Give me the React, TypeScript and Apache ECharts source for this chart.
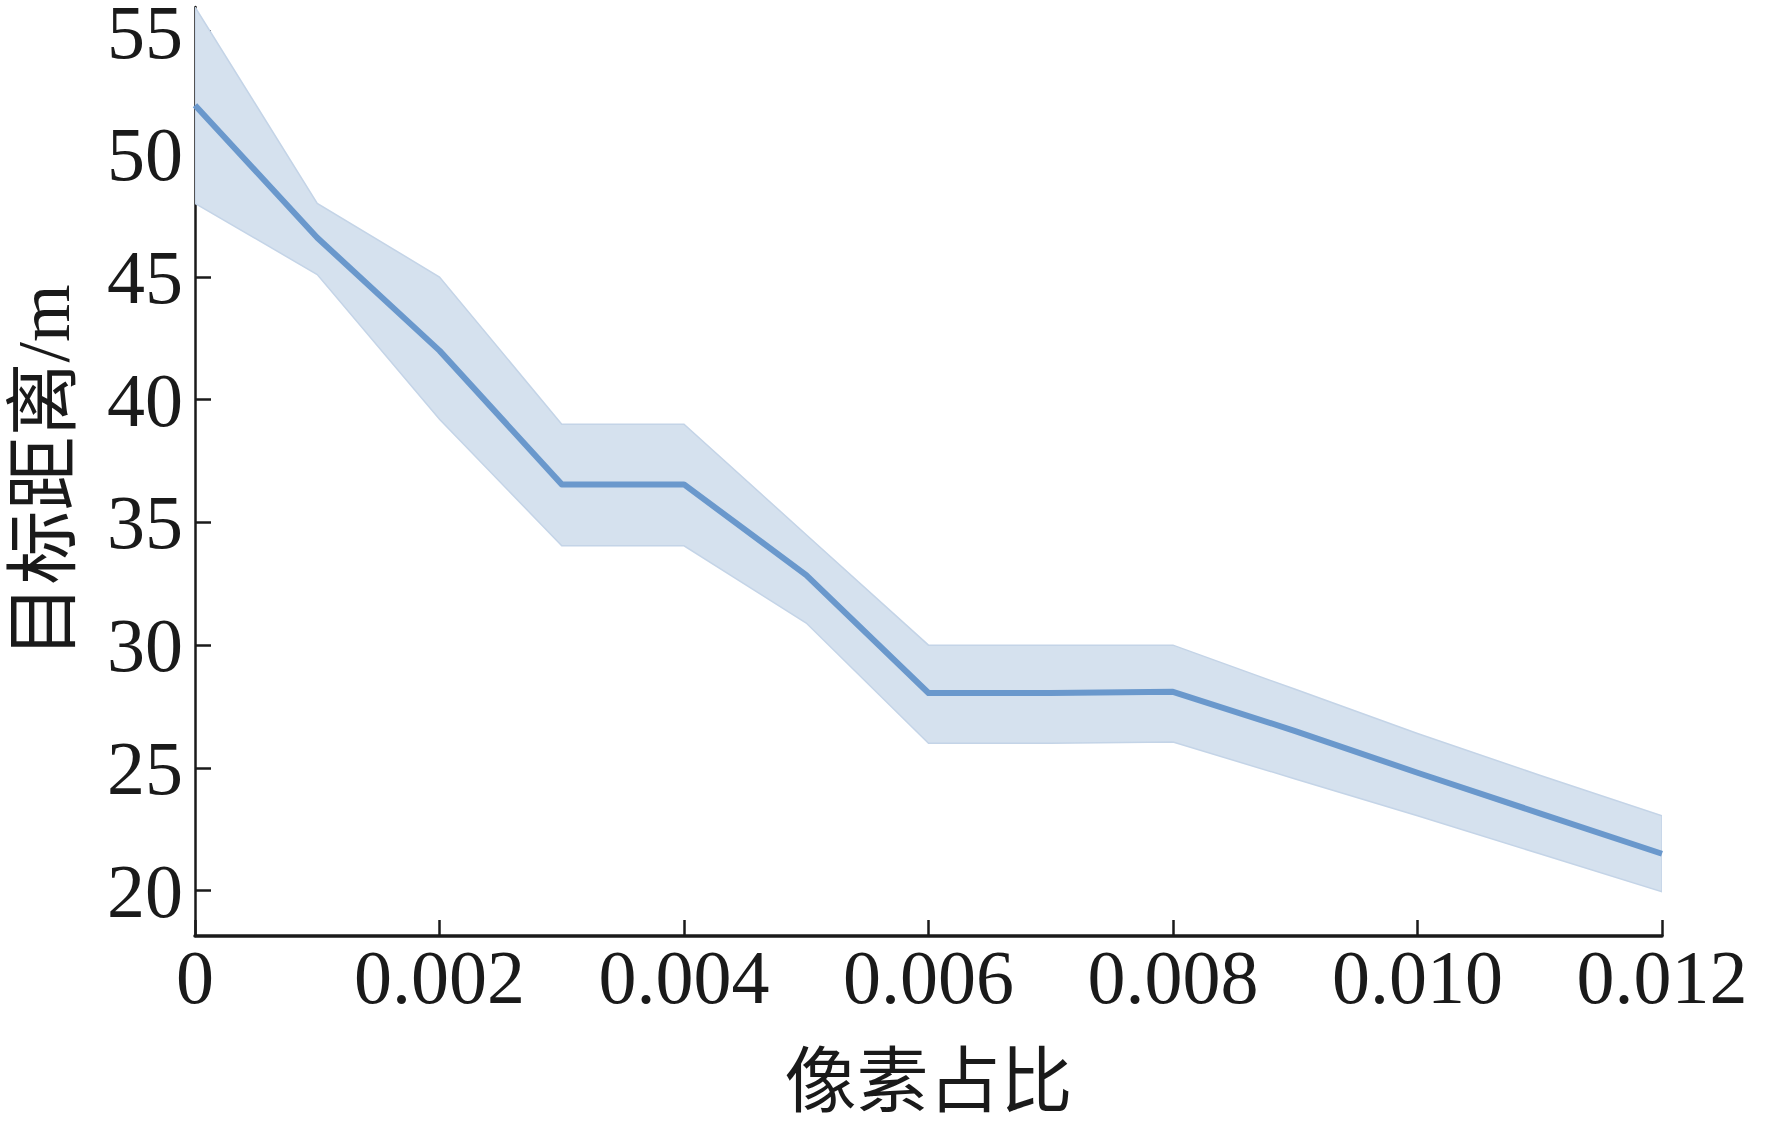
import React, { useEffect, useRef } from "react";
import * as echarts from "echarts";

// x positions (pixel ratio)
const xValues = [0, 0.001, 0.002, 0.003, 0.004, 0.005, 0.006, 0.007, 0.008, 0.009, 0.01, 0.011, 0.012];
// mean target distance (m)
const meanValues = [52.0, 46.6, 42.0, 36.55, 36.55, 32.85, 28.05, 28.05, 28.1, 26.5, 24.8, 23.15, 21.5];
// confidence band upper / lower
const upperValues = [56.0, 48.0, 45.0, 39.0, 39.0, 34.5, 30.0, 30.0, 30.0, 28.2, 26.4, 24.7, 23.05];
const lowerValues = [48.0, 45.1, 39.2, 34.05, 34.05, 30.9, 26.0, 26.0, 26.05, 24.55, 23.05, 21.5, 19.95];

const yTickValues = [20, 25, 30, 35, 40, 45, 50, 55];
const xAxisName = "像素占比";
const yAxisName = "目标距离/m";

const FONT = "'Liberation Serif', 'Noto Sans CJK SC', serif";
const INK = "#1a1a1a";

export default function App() {
  const ref = useRef<HTMLDivElement>(null);

  useEffect(() => {
    if (!ref.current) return;
    const chart = echarts.init(ref.current, undefined, { renderer: "svg" });

    const bandData = xValues.map((x, i) => [x, lowerValues[i], upperValues[i]]);

    const option: any = {
      animation: false,
      backgroundColor: "#ffffff",
      grid: {
        left: 195,
        right: 110,
        top: 7,
        bottom: 186,
        containLabel: false,
        outerBoundsMode: "none",
      },
      xAxis: {
        type: "value",
        min: 0,
        max: 0.012,
        interval: 0.002,
        name: xAxisName,
        nameLocation: "middle",
        nameGap: 110,
        nameTextStyle: { fontFamily: FONT, fontSize: 72, color: INK },
        axisLine: { show: true, onZero: false, lineStyle: { color: INK, width: 3.5 } },
        axisTick: { show: true, inside: true, length: 16, lineStyle: { color: INK, width: 2.5 } },
        axisLabel: {
          show: true,
          margin: 3,
          fontFamily: FONT,
          fontSize: 76,
          color: INK,
          showMinLabel: true,
          showMaxLabel: true,
          hideOverlap: false,
          formatter: (v: number) => (v === 0 ? "0" : v.toFixed(3)),
        },
        splitLine: { show: false },
      },
      yAxis: {
        type: "value",
        min: 18.15,
        max: 56,
        name: yAxisName,
        nameLocation: "middle",
        nameRotate: 90,
        nameGap: 114,
        nameTextStyle: { fontFamily: FONT, fontSize: 74, color: INK },
        axisLine: { show: true, onZero: false, lineStyle: { color: INK, width: 2.5 } },
        axisTick: {
          show: true,
          inside: true,
          length: 16,
          customValues: yTickValues,
          lineStyle: { color: INK, width: 2.5 },
        },
        axisLabel: {
          show: true,
          margin: 12,
          fontFamily: FONT,
          fontSize: 76,
          lineHeight: 60,
          color: INK,
          customValues: yTickValues,
          formatter: (v: number) => String(Math.round(v)),
        },
        splitLine: { show: false },
      },
      series: [
        {
          type: "custom",
          clip: true,
          silent: true,
          z: 1,
          encode: { x: 0, y: [1, 2] },
          data: bandData,
          renderItem: (params: any, api: any) => {
            if (params.dataIndex !== 0) return null;
            const pts: number[][] = [];
            for (let i = 0; i < xValues.length; i++) {
              pts.push(api.coord([xValues[i], upperValues[i]]));
            }
            for (let i = xValues.length - 1; i >= 0; i--) {
              pts.push(api.coord([xValues[i], lowerValues[i]]));
            }
            return {
              type: "polygon",
              shape: { points: pts },
              style: { fill: "#d5e1ee", stroke: "#c4d4e7", lineWidth: 1.5 },
            };
          },
        },
        {
          type: "line",
          z: 3,
          data: xValues.map((x, i) => [x, meanValues[i]]),
          symbol: "none",
          showSymbol: false,
          clip: true,
          lineStyle: { color: "#6a98cc", width: 6, join: "round" },
        },
      ],
    };

    chart.setOption(option);
    return () => {
      chart.dispose();
    };
  }, []);

  return (
    <div
      ref={ref}
      style={{ position: "fixed", left: 0, top: 0, width: 1772, height: 1122, background: "#fff" }}
    />
  );
}
